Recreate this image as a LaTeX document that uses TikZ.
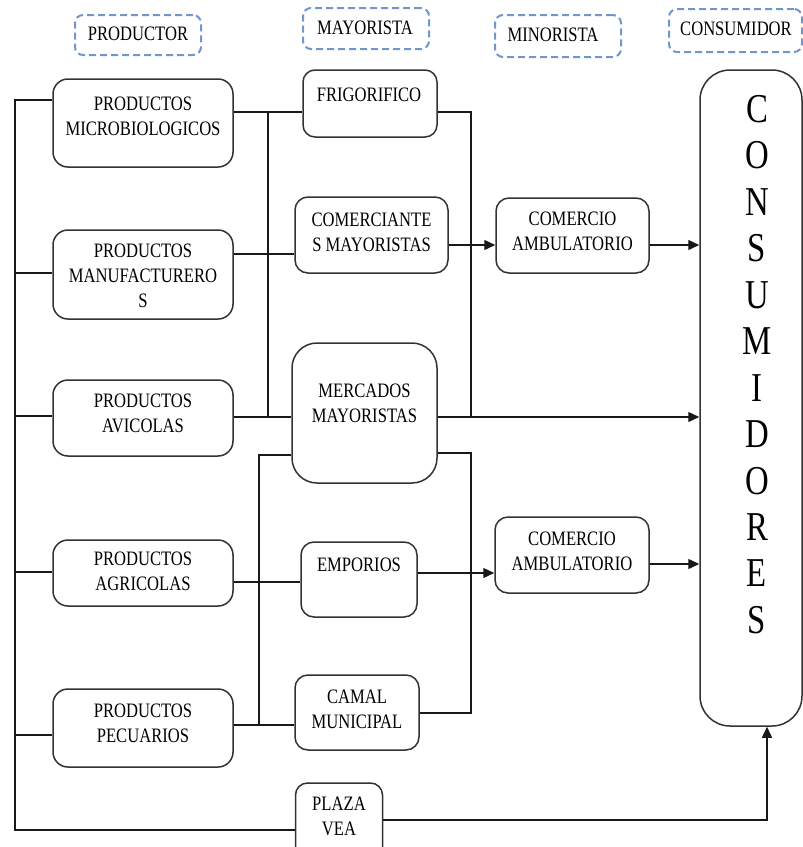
\documentclass[tikz,border=0pt]{standalone}
\usepackage{fontspec}
\setmainfont{Liberation Serif}[FakeStretch=0.81]
\newfontfamily\tallfont{Liberation Serif}[FakeStretch=0.8]
\usetikzlibrary{arrows.meta,calc}
\definecolor{headblue}{RGB}{112,150,205}
\definecolor{boxline}{RGB}{50,50,50}

\begin{document}
\begin{tikzpicture}[x=1pt,y=-1pt,
  box/.style={draw=boxline, line width=1.5pt, rounded corners=14pt, fill=white, inner sep=0pt},
  head/.style={draw=headblue, line width=2pt, dash pattern=on 7pt off 4pt, rounded corners=8pt, inner sep=0pt},
  lbl/.style={font=\fontsize{20.5}{25}\selectfont, align=center, inner sep=0pt},
  wire/.style={line width=1.4pt, draw=black!90},
  arr/.style={wire, -{Triangle[length=11pt,width=10pt]}},
]
\useasboundingbox (0,0) rectangle (803,847);
\clip (0,0) rectangle (803,847);

% ---- column headings ----
\node[head, minimum width=126pt, minimum height=40pt] (hprod) at (138,35) {};
\node[head, minimum width=126pt, minimum height=41pt] (hmay)  at (366,28.5) {};
\node[head, minimum width=126pt, minimum height=42pt] (hmin)  at (558,36) {};
\node[head, minimum width=133pt, minimum height=43pt] (hcon)  at (735.5,30.5) {};
\node[lbl] (thprod) at (138,34)   {PRODUCTOR};
\node[lbl] (thmay)  at (365,28)   {MAYORISTA};
\node[lbl] (thmin)  at (553,34.5) {MINORISTA};
\node[lbl] (thcon)  at (736,29)   {CONSUMIDOR};

% ---- producers ----
\node[box, rounded corners=15pt, minimum width=180pt, minimum height=88pt] (micro) at (143,123) {};
\node[box, rounded corners=15pt, minimum width=180pt, minimum height=89pt] (manuf) at (143,274.5) {};
\node[box, rounded corners=15pt, minimum width=180pt, minimum height=76pt] (avic)  at (143,418) {};
\node[box, rounded corners=15pt, minimum width=180pt, minimum height=66pt] (agric) at (143,573) {};
\node[box, rounded corners=15pt, minimum width=180pt, minimum height=78pt] (pecu)  at (143,728) {};

% ---- wholesalers ----
\node[box, rounded corners=12pt, minimum width=134pt, minimum height=67pt]  (frig)  at (370,103.5) {};
\node[box, rounded corners=13pt, minimum width=153pt, minimum height=76pt]  (comer) at (371.5,235) {};
\node[box, rounded corners=25pt, minimum width=145pt, minimum height=140pt] (merc)  at (364.5,413) {};
\node[box, rounded corners=13pt, minimum width=116pt, minimum height=75pt]  (empo)  at (359,579.5) {};
\node[box, rounded corners=13pt, minimum width=124pt, minimum height=75pt]  (camal) at (357,712.5) {};
\node[box, rounded corners=12pt, minimum width=87pt,  minimum height=80pt]  (plaza) at (339,823) {};

% ---- retailers ----
\node[box, rounded corners=13pt, minimum width=153pt, minimum height=75pt] (com1) at (572.5,235.5) {};
\node[box, rounded corners=13pt, minimum width=154pt, minimum height=76pt] (com2) at (572,555) {};

% ---- consumers ----
\node[box, rounded corners=30pt, minimum width=102pt, minimum height=656pt] (cons) at (751,398) {};

% ---- box texts ----
\node[lbl] (tmicro) at (143,116)   {PRODUCTOS\\MICROBIOLOGICOS};
\node[lbl] (tmanuf) at (143,276)   {PRODUCTOS\\MANUFACTURERO\\S};
\node[lbl] (tavic)  at (143,413.5) {PRODUCTOS\\AVICOLAS};
\node[lbl] (tagric) at (143,571)   {PRODUCTOS\\AGRICOLAS};
\node[lbl] (tpecu)  at (143,723)   {PRODUCTOS\\PECUARIOS};
\node[lbl] (tfrig)  at (369,94.5)  {FRIGORIFICO};
\node[lbl] (tcomer) at (371.5,232) {COMERCIANTE\\S MAYORISTAS};
\node[lbl] (tmerc)  at (364.5,403) {MERCADOS\\MAYORISTAS};
\node[lbl] (tempo)  at (359,565)   {EMPORIOS};
\node[lbl] (tcamal) at (357,709.5) {CAMAL\\MUNICIPAL};
\node[lbl] (tplaza) at (339,816)   {PLAZA\\VEA};
\node[lbl] (tcom1)  at (572.5,231) {COMERCIO\\AMBULATORIO};
\node[lbl] (tcom2)  at (572,551)   {COMERCIO\\AMBULATORIO};
\node[inner sep=0pt, align=center, font=\tallfont\fontsize{41}{46.45}\selectfont] (tcons) at (757,364.5)
  {C\\O\\N\\S\\U\\M\\I\\D\\O\\R\\E\\S};

% ---- junction points of the trunk lines ----
\coordinate (L0) at (15,100);
\coordinate (Lb) at (15,273);
\coordinate (Lc) at (15,416);
\coordinate (Ld) at (15,572);
\coordinate (Le) at (15,735);
\coordinate (L1) at (15,830);
\coordinate (A0) at (268,112);
\coordinate (A1) at (268,254);
\coordinate (A2) at (268,417);
\coordinate (B0) at (259,455);
\coordinate (B1) at (259,582);
\coordinate (B2) at (259,725);
\coordinate (C0) at (471,112);
\coordinate (C1) at (471,417);
\coordinate (D0) at (471,453);
\coordinate (D1) at (471,713);
\coordinate (E0) at (0,245);
\coordinate (E1) at (0,573);
\coordinate (E2) at (0,564);
\coordinate (P0) at (767,820);

% left trunk feeding the producers and Plaza Vea
\draw[wire] (micro.west |- L0) -- (L0) -- (L1) -- (plaza.west |- L1);
\draw[wire] (Lb) -- (manuf.west |- Lb);
\draw[wire] (Lc) -- (avic.west |- Lc);
\draw[wire] (Ld) -- (agric.west |- Ld);
\draw[wire] (Le) -- (pecu.west |- Le);

% upper producer trunk
\draw[wire] (micro.east |- A0) -- (frig.west |- A0);
\draw[wire] (A0) -- (A2);
\draw[wire] (manuf.east |- A1) -- (comer.west |- A1);
\draw[wire] (avic.east |- A2) -- (merc.west |- A2);

% lower producer trunk
\draw[wire] (merc.west |- B0) -- (B0) -- (B2);
\draw[wire] (agric.east |- B1) -- (empo.west |- B1);
\draw[wire] (pecu.east |- B2) -- (camal.west |- B2);

% wholesaler trunks on the right
\draw[wire] (frig.east |- C0) -- (C0) -- (C1);
\draw[arr] (merc.east |- C1) -- (cons.west |- C1);
\draw[wire] (merc.east |- D0) -- (D0) -- (D1) -- (camal.east |- D1);

% retail flows
\draw[arr] (comer.east |- E0) -- (com1.west |- E0);
\draw[arr] (com1.east |- E0) -- (cons.west |- E0);
\draw[arr] (empo.east |- E1) -- (com2.west |- E1);
\draw[arr] (com2.east |- E2) -- (cons.west |- E2);
\draw[arr] (plaza.east |- P0) -- (P0) -- (cons.south -| P0);
\end{tikzpicture}
\end{document}
